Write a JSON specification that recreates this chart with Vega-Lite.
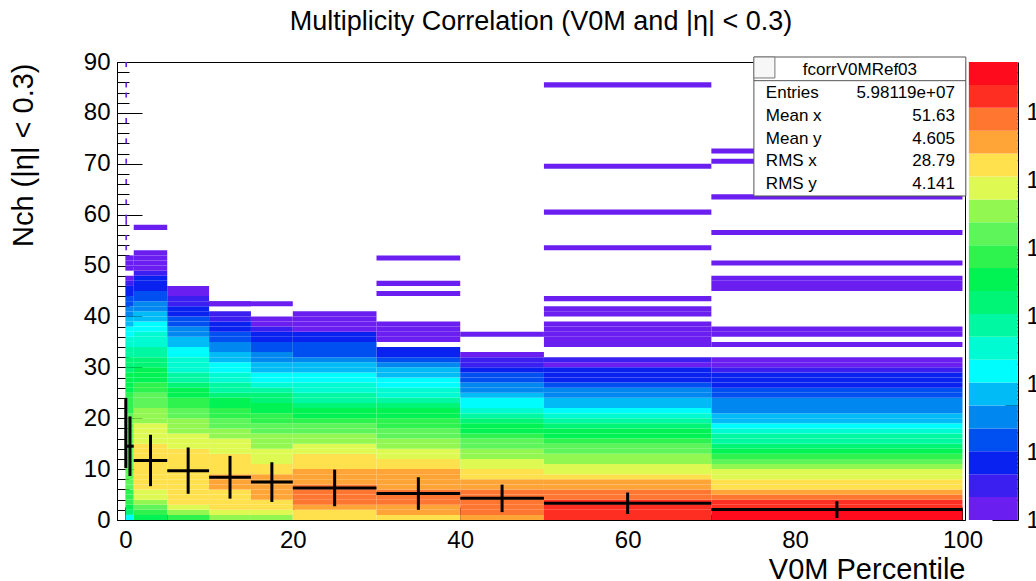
{
  "$schema": "https://vega.github.io/schema/vega-lite/v6.json",
  "width": 848,
  "height": 458,
  "autosize": {"type": "none"},
  "padding": {"left": 117, "top": 62, "right": 71, "bottom": 61},
  "background": "white",
  "config": {
    "view": {"stroke": "#000", "strokeWidth": 1},
    "font": "Liberation Sans",
    "axis": {"grid": false, "domainColor": "#000", "tickColor": "#000", "labelColor": "#000", "titleColor": "#000", "labelFont": "Liberation Sans", "titleFont": "Liberation Sans", "labelFontSize": 24, "titleFontWeight": "normal", "titleFontSize": 29, "labelOverlap": false, "labelFlush": false, "domainWidth": 1, "tickWidth": 1}
  },
  "title": {"text": "Multiplicity Correlation (V0M and |η| < 0.3)", "fontSize": 27, "fontWeight": "normal", "font": "Liberation Sans", "color": "#000", "anchor": "middle", "frame": "group", "baseline": "alphabetic", "offset": 31, "dy": 38},
  "datasets": {
    "h": [
      {"x0":0,"x1":1,"y0":0,"y1":1,"n":150},{"x0":0,"x1":1,"y0":1,"y1":2,"n":1600},{"x0":0,"x1":1,"y0":2,"y1":3,"n":3400},{"x0":0,"x1":1,"y0":3,"y1":4,"n":7400},{"x0":0,"x1":1,"y0":4,"y1":5,"n":7400},{"x0":0,"x1":1,"y0":5,"y1":6,"n":7400},
      {"x0":0,"x1":1,"y0":6,"y1":7,"n":16000},{"x0":0,"x1":1,"y0":7,"y1":8,"n":16000},{"x0":0,"x1":1,"y0":8,"y1":9,"n":16000},{"x0":0,"x1":1,"y0":9,"y1":10,"n":16000},{"x0":0,"x1":1,"y0":10,"y1":11,"n":16000},{"x0":0,"x1":1,"y0":11,"y1":12,"n":16000},{"x0":0,"x1":1,"y0":12,"y1":13,"n":16000},{"x0":0,"x1":1,"y0":13,"y1":14,"n":16000},{"x0":0,"x1":1,"y0":14,"y1":15,"n":16000},{"x0":0,"x1":1,"y0":15,"y1":16,"n":16000},{"x0":0,"x1":1,"y0":16,"y1":17,"n":16000},{"x0":0,"x1":1,"y0":17,"y1":18,"n":16000},{"x0":0,"x1":1,"y0":18,"y1":19,"n":16000},{"x0":0,"x1":1,"y0":19,"y1":20,"n":16000},{"x0":0,"x1":1,"y0":20,"y1":21,"n":16000},
      {"x0":0,"x1":1,"y0":21,"y1":22,"n":7400},{"x0":0,"x1":1,"y0":22,"y1":23,"n":7400},{"x0":0,"x1":1,"y0":23,"y1":24,"n":7400},{"x0":0,"x1":1,"y0":24,"y1":25,"n":7400},{"x0":0,"x1":1,"y0":25,"y1":26,"n":3400},{"x0":0,"x1":1,"y0":26,"y1":27,"n":3400},{"x0":0,"x1":1,"y0":27,"y1":28,"n":3400},{"x0":0,"x1":1,"y0":28,"y1":29,"n":3400},{"x0":0,"x1":1,"y0":29,"y1":30,"n":1600},{"x0":0,"x1":1,"y0":30,"y1":31,"n":1600},{"x0":0,"x1":1,"y0":31,"y1":32,"n":1600},{"x0":0,"x1":1,"y0":32,"y1":33,"n":720},{"x0":0,"x1":1,"y0":33,"y1":34,"n":720},{"x0":0,"x1":1,"y0":34,"y1":35,"n":330},{"x0":0,"x1":1,"y0":35,"y1":36,"n":330},{"x0":0,"x1":1,"y0":36,"y1":37,"n":150},{"x0":0,"x1":1,"y0":37,"y1":38,"n":150},{"x0":0,"x1":1,"y0":38,"y1":39,"n":70},{"x0":0,"x1":1,"y0":39,"y1":40,"n":70},{"x0":0,"x1":1,"y0":40,"y1":41,"n":33},{"x0":0,"x1":1,"y0":41,"y1":42,"n":33},{"x0":0,"x1":1,"y0":42,"y1":43,"n":15},{"x0":0,"x1":1,"y0":43,"y1":44,"n":15},{"x0":0,"x1":1,"y0":44,"y1":45,"n":7},{"x0":0,"x1":1,"y0":45,"y1":46,"n":7},{"x0":0,"x1":1,"y0":46,"y1":47,"n":3},{"x0":0,"x1":1,"y0":47,"y1":48,"n":1},{"x0":0,"x1":1,"y0":49,"y1":50,"n":1},{"x0":0,"x1":1,"y0":50,"y1":51,"n":1},{"x0":0,"x1":1,"y0":51,"y1":52,"n":1},

      {"x0":1,"x1":5,"y0":0,"y1":1,"n":3400},{"x0":1,"x1":5,"y0":1,"y1":2,"n":7400},{"x0":1,"x1":5,"y0":2,"y1":3,"n":16000},{"x0":1,"x1":5,"y0":3,"y1":4,"n":35000},{"x0":1,"x1":5,"y0":4,"y1":5,"n":76000},{"x0":1,"x1":5,"y0":5,"y1":6,"n":76000},
      {"x0":1,"x1":5,"y0":6,"y1":7,"n":165000},{"x0":1,"x1":5,"y0":7,"y1":8,"n":165000},{"x0":1,"x1":5,"y0":8,"y1":9,"n":165000},{"x0":1,"x1":5,"y0":9,"y1":10,"n":165000},{"x0":1,"x1":5,"y0":10,"y1":11,"n":165000},{"x0":1,"x1":5,"y0":11,"y1":12,"n":165000},{"x0":1,"x1":5,"y0":12,"y1":13,"n":165000},{"x0":1,"x1":5,"y0":13,"y1":14,"n":165000},{"x0":1,"x1":5,"y0":14,"y1":15,"n":165000},
      {"x0":1,"x1":5,"y0":15,"y1":16,"n":76000},{"x0":1,"x1":5,"y0":16,"y1":17,"n":76000},{"x0":1,"x1":5,"y0":17,"y1":18,"n":76000},{"x0":1,"x1":5,"y0":18,"y1":19,"n":76000},{"x0":1,"x1":5,"y0":19,"y1":20,"n":35000},{"x0":1,"x1":5,"y0":20,"y1":21,"n":35000},{"x0":1,"x1":5,"y0":21,"y1":22,"n":35000},{"x0":1,"x1":5,"y0":22,"y1":23,"n":16000},{"x0":1,"x1":5,"y0":23,"y1":24,"n":16000},{"x0":1,"x1":5,"y0":24,"y1":25,"n":16000},{"x0":1,"x1":5,"y0":25,"y1":26,"n":7400},{"x0":1,"x1":5,"y0":26,"y1":27,"n":7400},{"x0":1,"x1":5,"y0":27,"y1":28,"n":3400},{"x0":1,"x1":5,"y0":28,"y1":29,"n":3400},{"x0":1,"x1":5,"y0":29,"y1":30,"n":3400},{"x0":1,"x1":5,"y0":30,"y1":31,"n":1600},{"x0":1,"x1":5,"y0":31,"y1":32,"n":1600},{"x0":1,"x1":5,"y0":32,"y1":33,"n":720},{"x0":1,"x1":5,"y0":33,"y1":34,"n":720},{"x0":1,"x1":5,"y0":34,"y1":35,"n":330},{"x0":1,"x1":5,"y0":35,"y1":36,"n":330},{"x0":1,"x1":5,"y0":36,"y1":37,"n":330},{"x0":1,"x1":5,"y0":37,"y1":38,"n":150},{"x0":1,"x1":5,"y0":38,"y1":39,"n":150},{"x0":1,"x1":5,"y0":39,"y1":40,"n":70},{"x0":1,"x1":5,"y0":40,"y1":41,"n":70},{"x0":1,"x1":5,"y0":41,"y1":42,"n":33},{"x0":1,"x1":5,"y0":42,"y1":43,"n":33},{"x0":1,"x1":5,"y0":43,"y1":44,"n":15},{"x0":1,"x1":5,"y0":44,"y1":45,"n":15},{"x0":1,"x1":5,"y0":45,"y1":46,"n":7},{"x0":1,"x1":5,"y0":46,"y1":47,"n":7},{"x0":1,"x1":5,"y0":47,"y1":48,"n":7},{"x0":1,"x1":5,"y0":48,"y1":49,"n":3},{"x0":1,"x1":5,"y0":49,"y1":50,"n":1},{"x0":1,"x1":5,"y0":50,"y1":51,"n":1},{"x0":1,"x1":5,"y0":51,"y1":52,"n":1},{"x0":1,"x1":5,"y0":52,"y1":53,"n":1},{"x0":1,"x1":5,"y0":57,"y1":58,"n":1},

      {"x0":5,"x1":10,"y0":0,"y1":1,"n":7400},{"x0":5,"x1":10,"y0":1,"y1":2,"n":35000},{"x0":5,"x1":10,"y0":2,"y1":3,"n":76000},
      {"x0":5,"x1":10,"y0":3,"y1":4,"n":165000},{"x0":5,"x1":10,"y0":4,"y1":5,"n":165000},{"x0":5,"x1":10,"y0":5,"y1":6,"n":165000},{"x0":5,"x1":10,"y0":6,"y1":7,"n":165000},{"x0":5,"x1":10,"y0":7,"y1":8,"n":165000},{"x0":5,"x1":10,"y0":8,"y1":9,"n":165000},{"x0":5,"x1":10,"y0":9,"y1":10,"n":165000},{"x0":5,"x1":10,"y0":10,"y1":11,"n":165000},{"x0":5,"x1":10,"y0":11,"y1":12,"n":165000},{"x0":5,"x1":10,"y0":12,"y1":13,"n":165000},{"x0":5,"x1":10,"y0":13,"y1":14,"n":165000},
      {"x0":5,"x1":10,"y0":14,"y1":15,"n":76000},{"x0":5,"x1":10,"y0":15,"y1":16,"n":76000},{"x0":5,"x1":10,"y0":16,"y1":17,"n":76000},{"x0":5,"x1":10,"y0":17,"y1":18,"n":35000},{"x0":5,"x1":10,"y0":18,"y1":19,"n":35000},{"x0":5,"x1":10,"y0":19,"y1":20,"n":35000},{"x0":5,"x1":10,"y0":20,"y1":21,"n":16000},{"x0":5,"x1":10,"y0":21,"y1":22,"n":16000},{"x0":5,"x1":10,"y0":22,"y1":23,"n":7400},{"x0":5,"x1":10,"y0":23,"y1":24,"n":7400},{"x0":5,"x1":10,"y0":24,"y1":25,"n":3400},{"x0":5,"x1":10,"y0":25,"y1":26,"n":3400},{"x0":5,"x1":10,"y0":26,"y1":27,"n":1600},{"x0":5,"x1":10,"y0":27,"y1":28,"n":720},{"x0":5,"x1":10,"y0":28,"y1":29,"n":720},{"x0":5,"x1":10,"y0":29,"y1":30,"n":330},{"x0":5,"x1":10,"y0":30,"y1":31,"n":330},{"x0":5,"x1":10,"y0":31,"y1":32,"n":330},{"x0":5,"x1":10,"y0":32,"y1":33,"n":150},{"x0":5,"x1":10,"y0":33,"y1":34,"n":150},{"x0":5,"x1":10,"y0":34,"y1":35,"n":70},{"x0":5,"x1":10,"y0":35,"y1":36,"n":70},{"x0":5,"x1":10,"y0":36,"y1":37,"n":33},{"x0":5,"x1":10,"y0":37,"y1":38,"n":33},{"x0":5,"x1":10,"y0":38,"y1":39,"n":15},{"x0":5,"x1":10,"y0":39,"y1":40,"n":15},{"x0":5,"x1":10,"y0":40,"y1":41,"n":7},{"x0":5,"x1":10,"y0":41,"y1":42,"n":7},{"x0":5,"x1":10,"y0":42,"y1":43,"n":3},{"x0":5,"x1":10,"y0":43,"y1":44,"n":3},{"x0":5,"x1":10,"y0":44,"y1":45,"n":1},{"x0":5,"x1":10,"y0":45,"y1":46,"n":1},

      {"x0":10,"x1":15,"y0":0,"y1":1,"n":35000},{"x0":10,"x1":15,"y0":1,"y1":2,"n":76000},{"x0":10,"x1":15,"y0":2,"y1":3,"n":165000},{"x0":10,"x1":15,"y0":3,"y1":4,"n":165000},{"x0":10,"x1":15,"y0":4,"y1":5,"n":165000},{"x0":10,"x1":15,"y0":5,"y1":6,"n":165000},{"x0":10,"x1":15,"y0":6,"y1":7,"n":360000},{"x0":10,"x1":15,"y0":7,"y1":8,"n":360000},{"x0":10,"x1":15,"y0":8,"y1":9,"n":360000},{"x0":10,"x1":15,"y0":9,"y1":10,"n":165000},{"x0":10,"x1":15,"y0":10,"y1":11,"n":165000},{"x0":10,"x1":15,"y0":11,"y1":12,"n":165000},{"x0":10,"x1":15,"y0":12,"y1":13,"n":165000},
      {"x0":10,"x1":15,"y0":13,"y1":14,"n":76000},{"x0":10,"x1":15,"y0":14,"y1":15,"n":76000},{"x0":10,"x1":15,"y0":15,"y1":16,"n":76000},{"x0":10,"x1":15,"y0":16,"y1":17,"n":35000},{"x0":10,"x1":15,"y0":17,"y1":18,"n":35000},{"x0":10,"x1":15,"y0":18,"y1":19,"n":16000},{"x0":10,"x1":15,"y0":19,"y1":20,"n":16000},{"x0":10,"x1":15,"y0":20,"y1":21,"n":7400},{"x0":10,"x1":15,"y0":21,"y1":22,"n":7400},{"x0":10,"x1":15,"y0":22,"y1":23,"n":3400},{"x0":10,"x1":15,"y0":23,"y1":24,"n":3400},{"x0":10,"x1":15,"y0":24,"y1":25,"n":1600},{"x0":10,"x1":15,"y0":25,"y1":26,"n":720},{"x0":10,"x1":15,"y0":26,"y1":27,"n":720},{"x0":10,"x1":15,"y0":27,"y1":28,"n":330},{"x0":10,"x1":15,"y0":28,"y1":29,"n":330},{"x0":10,"x1":15,"y0":29,"y1":30,"n":150},{"x0":10,"x1":15,"y0":30,"y1":31,"n":150},{"x0":10,"x1":15,"y0":31,"y1":32,"n":70},{"x0":10,"x1":15,"y0":32,"y1":33,"n":70},{"x0":10,"x1":15,"y0":33,"y1":34,"n":33},{"x0":10,"x1":15,"y0":34,"y1":35,"n":33},{"x0":10,"x1":15,"y0":35,"y1":36,"n":15},{"x0":10,"x1":15,"y0":36,"y1":37,"n":15},{"x0":10,"x1":15,"y0":37,"y1":38,"n":7},{"x0":10,"x1":15,"y0":38,"y1":39,"n":7},{"x0":10,"x1":15,"y0":39,"y1":40,"n":3},{"x0":10,"x1":15,"y0":40,"y1":41,"n":3},{"x0":10,"x1":15,"y0":42,"y1":43,"n":1},

      {"x0":15,"x1":20,"y0":0,"y1":1,"n":35000},{"x0":15,"x1":20,"y0":1,"y1":2,"n":76000},{"x0":15,"x1":20,"y0":2,"y1":3,"n":165000},{"x0":15,"x1":20,"y0":3,"y1":4,"n":165000},{"x0":15,"x1":20,"y0":4,"y1":5,"n":360000},{"x0":15,"x1":20,"y0":5,"y1":6,"n":360000},{"x0":15,"x1":20,"y0":6,"y1":7,"n":360000},{"x0":15,"x1":20,"y0":7,"y1":8,"n":360000},{"x0":15,"x1":20,"y0":8,"y1":9,"n":360000},{"x0":15,"x1":20,"y0":9,"y1":10,"n":165000},{"x0":15,"x1":20,"y0":10,"y1":11,"n":165000},
      {"x0":15,"x1":20,"y0":11,"y1":12,"n":76000},{"x0":15,"x1":20,"y0":12,"y1":13,"n":76000},{"x0":15,"x1":20,"y0":13,"y1":14,"n":76000},{"x0":15,"x1":20,"y0":14,"y1":15,"n":35000},{"x0":15,"x1":20,"y0":15,"y1":16,"n":35000},{"x0":15,"x1":20,"y0":16,"y1":17,"n":35000},{"x0":15,"x1":20,"y0":17,"y1":18,"n":16000},{"x0":15,"x1":20,"y0":18,"y1":19,"n":16000},{"x0":15,"x1":20,"y0":19,"y1":20,"n":7400},{"x0":15,"x1":20,"y0":20,"y1":21,"n":7400},{"x0":15,"x1":20,"y0":21,"y1":22,"n":3400},{"x0":15,"x1":20,"y0":22,"y1":23,"n":3400},{"x0":15,"x1":20,"y0":23,"y1":24,"n":1600},{"x0":15,"x1":20,"y0":24,"y1":25,"n":1600},{"x0":15,"x1":20,"y0":25,"y1":26,"n":720},{"x0":15,"x1":20,"y0":26,"y1":27,"n":330},{"x0":15,"x1":20,"y0":27,"y1":28,"n":150},{"x0":15,"x1":20,"y0":28,"y1":29,"n":150},{"x0":15,"x1":20,"y0":29,"y1":30,"n":70},{"x0":15,"x1":20,"y0":30,"y1":31,"n":70},{"x0":15,"x1":20,"y0":31,"y1":32,"n":33},{"x0":15,"x1":20,"y0":32,"y1":33,"n":33},{"x0":15,"x1":20,"y0":33,"y1":34,"n":15},{"x0":15,"x1":20,"y0":34,"y1":35,"n":15},{"x0":15,"x1":20,"y0":35,"y1":36,"n":7},{"x0":15,"x1":20,"y0":36,"y1":37,"n":7},{"x0":15,"x1":20,"y0":37,"y1":38,"n":3},{"x0":15,"x1":20,"y0":38,"y1":39,"n":1},{"x0":15,"x1":20,"y0":39,"y1":40,"n":1},{"x0":10,"x1":20,"y0":42,"y1":43,"n":1},

      {"x0":20,"x1":30,"y0":0,"y1":1,"n":165000},{"x0":20,"x1":30,"y0":1,"y1":2,"n":165000},{"x0":20,"x1":30,"y0":2,"y1":3,"n":360000},{"x0":20,"x1":30,"y0":3,"y1":4,"n":780000},{"x0":20,"x1":30,"y0":4,"y1":5,"n":780000},{"x0":20,"x1":30,"y0":5,"y1":6,"n":780000},{"x0":20,"x1":30,"y0":6,"y1":7,"n":780000},{"x0":20,"x1":30,"y0":7,"y1":8,"n":360000},{"x0":20,"x1":30,"y0":8,"y1":9,"n":360000},{"x0":20,"x1":30,"y0":9,"y1":10,"n":360000},{"x0":20,"x1":30,"y0":10,"y1":11,"n":165000},{"x0":20,"x1":30,"y0":11,"y1":12,"n":165000},{"x0":20,"x1":30,"y0":12,"y1":13,"n":165000},
      {"x0":20,"x1":30,"y0":13,"y1":14,"n":76000},{"x0":20,"x1":30,"y0":14,"y1":15,"n":76000},{"x0":20,"x1":30,"y0":15,"y1":16,"n":35000},{"x0":20,"x1":30,"y0":16,"y1":17,"n":35000},{"x0":20,"x1":30,"y0":17,"y1":18,"n":16000},{"x0":20,"x1":30,"y0":18,"y1":19,"n":16000},{"x0":20,"x1":30,"y0":19,"y1":20,"n":7400},{"x0":20,"x1":30,"y0":20,"y1":21,"n":3400},{"x0":20,"x1":30,"y0":21,"y1":22,"n":3400},{"x0":20,"x1":30,"y0":22,"y1":23,"n":1600},{"x0":20,"x1":30,"y0":23,"y1":24,"n":720},{"x0":20,"x1":30,"y0":24,"y1":25,"n":720},{"x0":20,"x1":30,"y0":25,"y1":26,"n":330},{"x0":20,"x1":30,"y0":26,"y1":27,"n":330},{"x0":20,"x1":30,"y0":27,"y1":28,"n":150},{"x0":20,"x1":30,"y0":28,"y1":29,"n":150},{"x0":20,"x1":30,"y0":29,"y1":30,"n":70},{"x0":20,"x1":30,"y0":30,"y1":31,"n":70},{"x0":20,"x1":30,"y0":31,"y1":32,"n":33},{"x0":20,"x1":30,"y0":32,"y1":33,"n":15},{"x0":20,"x1":30,"y0":33,"y1":34,"n":15},{"x0":20,"x1":30,"y0":34,"y1":35,"n":15},{"x0":20,"x1":30,"y0":35,"y1":36,"n":7},{"x0":20,"x1":30,"y0":36,"y1":37,"n":7},{"x0":20,"x1":30,"y0":37,"y1":38,"n":1},{"x0":20,"x1":30,"y0":38,"y1":39,"n":1},{"x0":20,"x1":30,"y0":39,"y1":40,"n":1},{"x0":20,"x1":30,"y0":40,"y1":41,"n":1},

      {"x0":30,"x1":40,"y0":0,"y1":1,"n":165000},{"x0":30,"x1":40,"y0":1,"y1":2,"n":360000},{"x0":30,"x1":40,"y0":2,"y1":3,"n":360000},{"x0":30,"x1":40,"y0":3,"y1":4,"n":780000},{"x0":30,"x1":40,"y0":4,"y1":5,"n":780000},{"x0":30,"x1":40,"y0":5,"y1":6,"n":780000},{"x0":30,"x1":40,"y0":6,"y1":7,"n":360000},{"x0":30,"x1":40,"y0":7,"y1":8,"n":360000},{"x0":30,"x1":40,"y0":8,"y1":9,"n":360000},{"x0":30,"x1":40,"y0":9,"y1":10,"n":360000},{"x0":30,"x1":40,"y0":10,"y1":11,"n":165000},{"x0":30,"x1":40,"y0":11,"y1":12,"n":165000},
      {"x0":30,"x1":40,"y0":12,"y1":13,"n":76000},{"x0":30,"x1":40,"y0":13,"y1":14,"n":76000},{"x0":30,"x1":40,"y0":14,"y1":15,"n":35000},{"x0":30,"x1":40,"y0":15,"y1":16,"n":35000},{"x0":30,"x1":40,"y0":16,"y1":17,"n":16000},{"x0":30,"x1":40,"y0":17,"y1":18,"n":16000},{"x0":30,"x1":40,"y0":18,"y1":19,"n":7400},{"x0":30,"x1":40,"y0":19,"y1":20,"n":7400},{"x0":30,"x1":40,"y0":20,"y1":21,"n":3400},{"x0":30,"x1":40,"y0":21,"y1":22,"n":3400},{"x0":30,"x1":40,"y0":22,"y1":23,"n":1600},{"x0":30,"x1":40,"y0":23,"y1":24,"n":720},{"x0":30,"x1":40,"y0":24,"y1":25,"n":330},{"x0":30,"x1":40,"y0":25,"y1":26,"n":330},{"x0":30,"x1":40,"y0":26,"y1":27,"n":150},{"x0":30,"x1":40,"y0":27,"y1":28,"n":150},{"x0":30,"x1":40,"y0":28,"y1":29,"n":70},{"x0":30,"x1":40,"y0":29,"y1":30,"n":70},{"x0":30,"x1":40,"y0":30,"y1":31,"n":33},{"x0":30,"x1":40,"y0":31,"y1":32,"n":15},{"x0":30,"x1":40,"y0":32,"y1":33,"n":7},{"x0":30,"x1":40,"y0":33,"y1":34,"n":7},{"x0":30,"x1":40,"y0":35,"y1":36,"n":1},{"x0":30,"x1":40,"y0":36,"y1":37,"n":1},{"x0":30,"x1":40,"y0":37,"y1":38,"n":1},{"x0":30,"x1":40,"y0":38,"y1":39,"n":1},{"x0":30,"x1":40,"y0":44,"y1":45,"n":1},{"x0":30,"x1":40,"y0":46,"y1":47,"n":1},{"x0":30,"x1":40,"y0":51,"y1":52,"n":1},

      {"x0":40,"x1":50,"y0":0,"y1":1,"n":360000},{"x0":40,"x1":50,"y0":1,"y1":2,"n":780000},{"x0":40,"x1":50,"y0":2,"y1":3,"n":780000},{"x0":40,"x1":50,"y0":3,"y1":4,"n":780000},{"x0":40,"x1":50,"y0":4,"y1":5,"n":780000},{"x0":40,"x1":50,"y0":5,"y1":6,"n":780000},{"x0":40,"x1":50,"y0":6,"y1":7,"n":360000},{"x0":40,"x1":50,"y0":7,"y1":8,"n":360000},{"x0":40,"x1":50,"y0":8,"y1":9,"n":165000},{"x0":40,"x1":50,"y0":9,"y1":10,"n":165000},{"x0":40,"x1":50,"y0":10,"y1":11,"n":76000},{"x0":40,"x1":50,"y0":11,"y1":12,"n":76000},{"x0":40,"x1":50,"y0":12,"y1":13,"n":35000},{"x0":40,"x1":50,"y0":13,"y1":14,"n":35000},{"x0":40,"x1":50,"y0":14,"y1":15,"n":16000},{"x0":40,"x1":50,"y0":15,"y1":16,"n":16000},{"x0":40,"x1":50,"y0":16,"y1":17,"n":7400},{"x0":40,"x1":50,"y0":17,"y1":18,"n":3400},{"x0":40,"x1":50,"y0":18,"y1":19,"n":3400},{"x0":40,"x1":50,"y0":19,"y1":20,"n":1600},{"x0":40,"x1":50,"y0":20,"y1":21,"n":720},{"x0":40,"x1":50,"y0":21,"y1":22,"n":330},{"x0":40,"x1":50,"y0":22,"y1":23,"n":150},{"x0":40,"x1":50,"y0":23,"y1":24,"n":150},{"x0":40,"x1":50,"y0":24,"y1":25,"n":70},{"x0":40,"x1":50,"y0":25,"y1":26,"n":33},{"x0":40,"x1":50,"y0":26,"y1":27,"n":33},{"x0":40,"x1":50,"y0":27,"y1":28,"n":15},{"x0":40,"x1":50,"y0":28,"y1":29,"n":15},{"x0":40,"x1":50,"y0":29,"y1":30,"n":7},{"x0":40,"x1":50,"y0":30,"y1":31,"n":3},{"x0":40,"x1":50,"y0":31,"y1":32,"n":3},{"x0":40,"x1":50,"y0":32,"y1":33,"n":1},{"x0":40,"x1":50,"y0":36,"y1":37,"n":1},

      {"x0":50,"x1":70,"y0":0,"y1":1,"n":1700000},{"x0":50,"x1":70,"y0":1,"y1":2,"n":1700000},{"x0":50,"x1":70,"y0":2,"y1":3,"n":1700000},{"x0":50,"x1":70,"y0":3,"y1":4,"n":1700000},{"x0":50,"x1":70,"y0":4,"y1":5,"n":780000},{"x0":50,"x1":70,"y0":5,"y1":6,"n":780000},{"x0":50,"x1":70,"y0":6,"y1":7,"n":360000},{"x0":50,"x1":70,"y0":7,"y1":8,"n":360000},{"x0":50,"x1":70,"y0":8,"y1":9,"n":165000},{"x0":50,"x1":70,"y0":9,"y1":10,"n":76000},{"x0":50,"x1":70,"y0":10,"y1":11,"n":76000},{"x0":50,"x1":70,"y0":11,"y1":12,"n":35000},{"x0":50,"x1":70,"y0":12,"y1":13,"n":35000},{"x0":50,"x1":70,"y0":13,"y1":14,"n":16000},{"x0":50,"x1":70,"y0":14,"y1":15,"n":16000},{"x0":50,"x1":70,"y0":15,"y1":16,"n":7400},{"x0":50,"x1":70,"y0":16,"y1":17,"n":3400},{"x0":50,"x1":70,"y0":17,"y1":18,"n":3400},{"x0":50,"x1":70,"y0":18,"y1":19,"n":1600},{"x0":50,"x1":70,"y0":19,"y1":20,"n":720},{"x0":50,"x1":70,"y0":20,"y1":21,"n":330},{"x0":50,"x1":70,"y0":21,"y1":22,"n":150},{"x0":50,"x1":70,"y0":22,"y1":23,"n":70},{"x0":50,"x1":70,"y0":23,"y1":24,"n":70},{"x0":50,"x1":70,"y0":24,"y1":25,"n":33},{"x0":50,"x1":70,"y0":25,"y1":26,"n":33},{"x0":50,"x1":70,"y0":26,"y1":27,"n":15},{"x0":50,"x1":70,"y0":27,"y1":28,"n":7},{"x0":50,"x1":70,"y0":28,"y1":29,"n":7},{"x0":50,"x1":70,"y0":29,"y1":30,"n":7},{"x0":50,"x1":70,"y0":30,"y1":31,"n":1},{"x0":50,"x1":70,"y0":31,"y1":32,"n":3},{"x0":50,"x1":70,"y0":34,"y1":35,"n":1},{"x0":50,"x1":70,"y0":35,"y1":36,"n":1},{"x0":50,"x1":70,"y0":36,"y1":37,"n":1},{"x0":50,"x1":70,"y0":37,"y1":38,"n":1},{"x0":50,"x1":70,"y0":38,"y1":39,"n":1},{"x0":50,"x1":70,"y0":40,"y1":41,"n":1},{"x0":50,"x1":70,"y0":41,"y1":42,"n":1},{"x0":50,"x1":70,"y0":43,"y1":44,"n":1},{"x0":50,"x1":70,"y0":53,"y1":54,"n":1},{"x0":50,"x1":70,"y0":60,"y1":61,"n":1},{"x0":50,"x1":70,"y0":69,"y1":70,"n":1},{"x0":50,"x1":70,"y0":85,"y1":86,"n":1},

      {"x0":70,"x1":100,"y0":0,"y1":1,"n":3600000},{"x0":70,"x1":100,"y0":1,"y1":2,"n":3600000},{"x0":70,"x1":100,"y0":2,"y1":3,"n":1700000},{"x0":70,"x1":100,"y0":3,"y1":4,"n":1700000},{"x0":70,"x1":100,"y0":4,"y1":5,"n":780000},{"x0":70,"x1":100,"y0":5,"y1":6,"n":360000},{"x0":70,"x1":100,"y0":6,"y1":7,"n":165000},{"x0":70,"x1":100,"y0":7,"y1":8,"n":165000},{"x0":70,"x1":100,"y0":8,"y1":9,"n":76000},{"x0":70,"x1":100,"y0":9,"y1":10,"n":76000},{"x0":70,"x1":100,"y0":10,"y1":11,"n":35000},{"x0":70,"x1":100,"y0":11,"y1":12,"n":16000},{"x0":70,"x1":100,"y0":12,"y1":13,"n":7400},{"x0":70,"x1":100,"y0":13,"y1":14,"n":3400},{"x0":70,"x1":100,"y0":14,"y1":15,"n":1600},{"x0":70,"x1":100,"y0":15,"y1":16,"n":720},{"x0":70,"x1":100,"y0":16,"y1":17,"n":720},{"x0":70,"x1":100,"y0":17,"y1":18,"n":330},{"x0":70,"x1":100,"y0":18,"y1":19,"n":150},{"x0":70,"x1":100,"y0":19,"y1":20,"n":70},{"x0":70,"x1":100,"y0":20,"y1":21,"n":70},{"x0":70,"x1":100,"y0":21,"y1":22,"n":33},{"x0":70,"x1":100,"y0":22,"y1":23,"n":33},{"x0":70,"x1":100,"y0":23,"y1":24,"n":33},{"x0":70,"x1":100,"y0":24,"y1":25,"n":15},{"x0":70,"x1":100,"y0":25,"y1":26,"n":15},{"x0":70,"x1":100,"y0":26,"y1":27,"n":7},{"x0":70,"x1":100,"y0":27,"y1":28,"n":7},{"x0":70,"x1":100,"y0":28,"y1":29,"n":7},{"x0":70,"x1":100,"y0":29,"y1":30,"n":3},{"x0":70,"x1":100,"y0":30,"y1":31,"n":1},{"x0":70,"x1":100,"y0":31,"y1":32,"n":1},{"x0":70,"x1":100,"y0":34,"y1":35,"n":1},{"x0":70,"x1":100,"y0":36,"y1":37,"n":1},{"x0":70,"x1":100,"y0":37,"y1":38,"n":1},{"x0":70,"x1":100,"y0":45,"y1":46,"n":1},{"x0":70,"x1":100,"y0":46,"y1":47,"n":1},{"x0":70,"x1":100,"y0":47,"y1":48,"n":1},{"x0":70,"x1":100,"y0":50,"y1":51,"n":1},{"x0":70,"x1":100,"y0":56,"y1":57,"n":1},{"x0":70,"x1":100,"y0":63,"y1":64,"n":1},{"x0":70,"x1":100,"y0":70,"y1":71,"n":1},{"x0":70,"x1":100,"y0":72,"y1":73,"n":1},

      {"x0":0,"x1":0.2,"y0":53,"y1":54,"n":1},{"x0":0,"x1":0.2,"y0":55,"y1":56,"n":1},{"x0":0,"x1":0.2,"y0":58,"y1":59,"n":1},{"x0":0,"x1":0.2,"y0":59,"y1":60,"n":1},{"x0":0,"x1":0.2,"y0":62,"y1":63,"n":1},{"x0":0,"x1":0.2,"y0":66,"y1":67,"n":1},{"x0":0,"x1":0.2,"y0":70,"y1":71,"n":1},{"x0":0,"x1":0.2,"y0":74,"y1":75,"n":1},{"x0":0,"x1":0.2,"y0":78,"y1":79,"n":1},{"x0":0,"x1":0.2,"y0":83,"y1":84,"n":1},{"x0":0,"x1":0.2,"y0":85,"y1":86,"n":1},{"x0":0,"x1":0.2,"y0":89,"y1":90,"n":1}
    ],
    "p": [
      {"x0":0,"x1":0.2,"xc":0.05,"m":17.1,"e":6.9},
      {"x0":0.2,"x1":1,"xc":0.55,"m":14.5,"e":5.85},
      {"x0":1,"x1":5,"xc":3,"m":11.7,"e":5.05},
      {"x0":5,"x1":10,"xc":7.5,"m":9.7,"e":4.55},
      {"x0":10,"x1":15,"xc":12.5,"m":8.4,"e":4.2},
      {"x0":15,"x1":20,"xc":17.5,"m":7.45,"e":3.9},
      {"x0":20,"x1":30,"xc":25,"m":6.3,"e":3.6},
      {"x0":30,"x1":40,"xc":35,"m":5.2,"e":3.2},
      {"x0":40,"x1":50,"xc":45,"m":4.25,"e":2.7},
      {"x0":50,"x1":70,"xc":60,"m":3.3,"e":2.1},
      {"x0":70,"x1":100,"xc":85,"m":2.05,"e":1.65}
    ],
    "cb": [
      {"lo":1,"hi":2.176,"n":1.5},{"lo":2.176,"hi":4.732,"n":3},{"lo":4.732,"hi":10.3,"n":7},{"lo":10.3,"hi":22.39,"n":15},{"lo":22.39,"hi":48.7,"n":33},
      {"lo":48.7,"hi":105.9,"n":70},{"lo":105.9,"hi":230.4,"n":150},{"lo":230.4,"hi":501.2,"n":330},{"lo":501.2,"hi":1090,"n":720},{"lo":1090,"hi":2371,"n":1600},
      {"lo":2371,"hi":5158,"n":3400},{"lo":5158,"hi":11220,"n":7400},{"lo":11220,"hi":24400,"n":16000},{"lo":24400,"hi":53090,"n":35000},{"lo":53090,"hi":115500,"n":76000},
      {"lo":115500,"hi":251200,"n":165000},{"lo":251200,"hi":546400,"n":360000},{"lo":546400,"hi":1188500,"n":780000},{"lo":1188500,"hi":2585000,"n":1700000},{"lo":2585000,"hi":5623000,"n":3600000}
    ],
    "st": [
      {"k":"fcorrV0MRef03","v":""},
      {"k":"Entries","v":"5.98119e+07"},
      {"k":"Mean x","v":"51.63"},
      {"k":"Mean y","v":"4.605"},
      {"k":"RMS x","v":"28.79"},
      {"k":"RMS y","v":"4.141"}
    ]
  },
  "layer": [
    {
      "layer": [
        {
          "data": {"name": "h"},
          "mark": {"type": "rect"},
          "encoding": {
            "x": {"field": "x0", "type": "quantitative", "scale": {"domain": [-1, 100.3], "nice": false, "zero": false},
              "axis": {"title": "V0M Percentile", "values": [0,5,10,15,20,25,30,35,40,45,50,55,60,65,70,75,80,85,90,95,100], "tickCount": 200, "format": "d",
                "labelExpr": "datum.value % 20 == 0 ? datum.label : ''", "labelOverlap": false,
                "tickSize": {"condition": {"test": "datum.value % 20 == 0", "value": -13}, "value": -6},
                "labelPadding": 21, "titleX": 848, "titleY": 58, "titleAlign": "right", "titleBaseline": "alphabetic", "titleAnchor": "end"}},
            "x2": {"field": "x1"},
            "y": {"field": "y0", "type": "quantitative", "scale": {"domain": [0, 90], "nice": false, "zero": false},
              "axis": {"title": "Nch (|η| < 0.3)", "values": [0,2,4,6,8,10,12,14,16,18,20,22,24,26,28,30,32,34,36,38,40,42,44,46,48,50,52,54,56,58,60,62,64,66,68,70,72,74,76,78,80,82,84,86,88,90], "tickCount": 200, "format": "d",
                "labelExpr": "datum.value % 10 == 0 ? datum.label : ''", "labelOverlap": false,
                "tickSize": {"condition": {"test": "datum.value % 10 == 0", "value": -25}, "value": -12},
                "labelPadding": 32, "titleAngle": -90, "titleX": -85, "titleY": 1, "titleAlign": "right", "titleBaseline": "alphabetic", "titleAnchor": "end"}},
            "y2": {"field": "y1"},
            "color": {"field": "n", "type": "quantitative", "legend": null,
              "scale": {"type": "threshold",
                "domain": [2.176, 4.732, 10.3, 22.39, 48.7, 105.9, 230.4, 501.2, 1090, 2371, 5158, 11220, 24400, 53090, 115500, 251200, 546400, 1188500, 2585000],
                "range": ["#6a1ff0", "#3b1ef0", "#0a22f0", "#004ff0", "#0088f0", "#00bbf5", "#00fdfd", "#00fbd2", "#00f8a2", "#00f577", "#00f352", "#2ef24e", "#5ef55a", "#93f752", "#defa52", "#ffe14e", "#ffa436", "#ff7630", "#ff2e22", "#fe0c1e"]}}
          }
        },
        {
          "data": {"name": "p"},
          "mark": {"type": "errorbar", "ticks": false, "thickness": 3, "color": "#000"},
          "encoding": {
            "x": {"field": "xc", "type": "quantitative", "axis": {"title": "V0M Percentile"}},
            "y": {"field": "m", "type": "quantitative", "axis": {"title": "Nch (|η| < 0.3)"}},
            "yError": {"field": "e"}
          }
        },
        {
          "data": {"name": "p"},
          "mark": {"type": "rule", "color": "#000", "strokeWidth": 3},
          "encoding": {
            "x": {"field": "x0", "type": "quantitative", "axis": {"title": "V0M Percentile"}},
            "x2": {"field": "x1"},
            "y": {"field": "m", "type": "quantitative", "axis": {"title": "Nch (|η| < 0.3)"}}
          }
        },
        {
          "data": {"values": [{}]},
          "mark": {"type": "rect", "fill": "white", "stroke": "#555", "strokeWidth": 1},
          "encoding": {"x": {"datum": 75.08}, "x2": {"datum": 100.4}, "y": {"datum": 90.98}, "y2": {"datum": 63.67}}
        },
        {
          "data": {"values": [{}]},
          "mark": {"type": "rule", "color": "#555", "strokeWidth": 1},
          "encoding": {"x": {"datum": 75.08}, "x2": {"datum": 100.4}, "y": {"datum": 86.33}}
        },
        {
          "data": {"values": [{}]},
          "mark": {"type": "rect", "fill": "#f7f7f7", "stroke": "#777", "strokeWidth": 1},
          "encoding": {"x": {"datum": 75.08}, "x2": {"datum": 77.59}, "y": {"datum": 90.98}, "y2": {"datum": 86.86}}
        }
      ]
    },
    {
      "data": {"name": "cb"},
      "mark": {"type": "rect"},
      "encoding": {
        "x": {"datum": 100.76},
        "x2": {"datum": 106.61},
        "y": {"field": "lo", "type": "quantitative", "scale": {"type": "log", "domain": [1, 5623000], "nice": false},
          "axis": {"orient": "right", "offset": 53, "title": null, "labelOverlap": false, "tickCount": 200,
            "values": [1,2,3,4,5,6,7,8,9,10,20,30,40,50,60,70,80,90,100,200,300,400,500,600,700,800,900,1000,2000,3000,4000,5000,6000,7000,8000,9000,10000,20000,30000,40000,50000,60000,70000,80000,90000,100000,200000,300000,400000,500000,600000,700000,800000,900000,1000000,2000000,3000000,4000000,5000000],
            "labelExpr": "datum.value == 1 ? '1' : datum.value == 10 ? '10' : datum.value == 100 ? '10²' : datum.value == 1000 ? '10³' : datum.value == 10000 ? '10⁴' : datum.value == 100000 ? '10⁵' : datum.value == 1000000 ? '10⁶' : ''",
            "tickSize": {"condition": {"test": "indexof([1,10,100,1000,10000,100000,1000000], datum.value) >= 0", "value": -26}, "value": -13},
            "labelPadding": 34}},
        "y2": {"field": "hi"},
        "color": {"field": "n", "type": "quantitative", "legend": null,
          "scale": {"type": "threshold",
            "domain": [2.176, 4.732, 10.3, 22.39, 48.7, 105.9, 230.4, 501.2, 1090, 2371, 5158, 11220, 24400, 53090, 115500, 251200, 546400, 1188500, 2585000],
            "range": ["#6a1ff0", "#3b1ef0", "#0a22f0", "#004ff0", "#0088f0", "#00bbf5", "#00fdfd", "#00fbd2", "#00f8a2", "#00f577", "#00f352", "#2ef24e", "#5ef55a", "#93f752", "#defa52", "#ffe14e", "#ffa436", "#ff7630", "#ff2e22", "#fe0c1e"]}}
      }
    },
    {
      "data": {"name": "st"},
      "encoding": {
        "y": {"field": "k", "type": "nominal", "axis": null,
          "scale": {"type": "point", "domain": ["fcorrV0MRef03", "Entries", "Mean x", "Mean y", "RMS x", "RMS y"], "range": [8, 122.3], "padding": 0}}
      },
      "layer": [
        {
          "transform": [{"filter": "datum.v == ''"}],
          "mark": {"type": "text", "align": "center", "baseline": "middle", "fontSize": 17, "font": "Liberation Sans", "color": "#000"},
          "encoding": {"x": {"datum": 87.74}, "text": {"field": "k"}}
        },
        {
          "transform": [{"filter": "datum.v != ''"}],
          "mark": {"type": "text", "align": "left", "baseline": "middle", "fontSize": 17, "font": "Liberation Sans", "color": "#000"},
          "encoding": {"x": {"datum": 76.51}, "text": {"field": "k"}}
        },
        {
          "transform": [{"filter": "datum.v != ''"}],
          "mark": {"type": "text", "align": "right", "baseline": "middle", "fontSize": 17, "font": "Liberation Sans", "color": "#000"},
          "encoding": {"x": {"datum": 99.09}, "text": {"field": "v"}}
        }
      ]
    }
  ],
  "resolve": {"scale": {"y": "independent", "color": "independent"}}
}
